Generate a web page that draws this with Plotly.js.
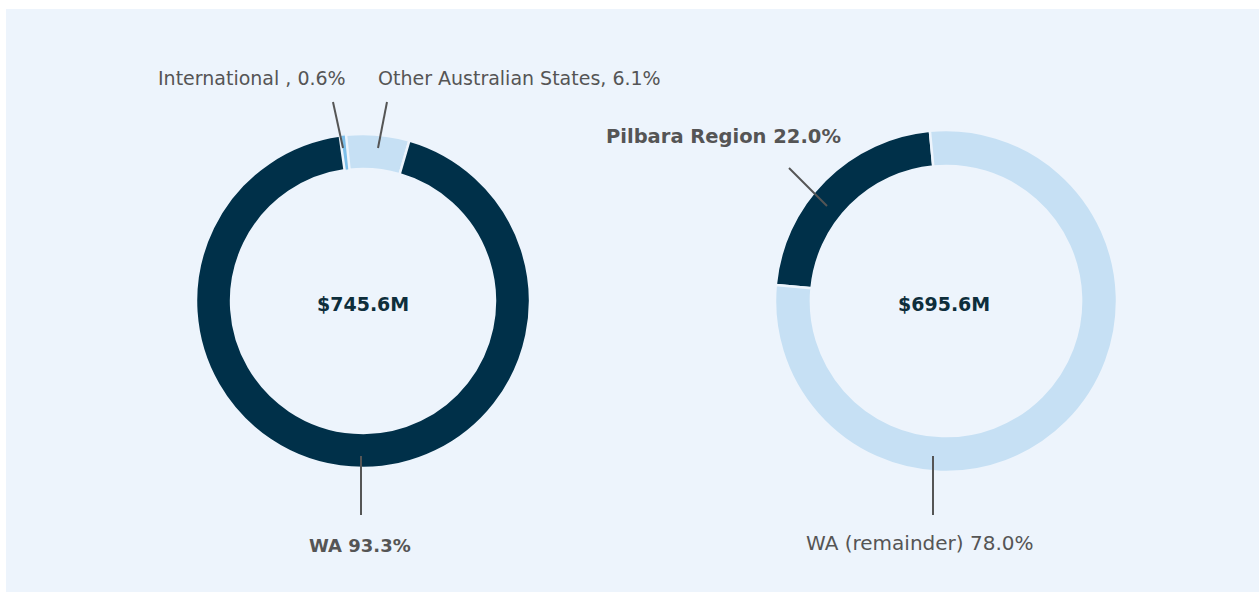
<!DOCTYPE html>
<html>
<head>
<meta charset="utf-8">
<script src="https://cdn.plot.ly/plotly-3.0.1.min.js"></script>
<style>html,body{margin:0;padding:0;background:#fff;}#chart{width:1259px;height:592px;}</style>
</head>
<body>
<div id="chart"></div>
<script>
// ---- Data ----
const originLabels = ['International', 'Other Australian States', 'WA'];
const originValues = [0.6, 6.1, 93.3];
const originTexts = ['International , 0.6%', 'Other Australian States, 6.1%', 'WA 93.3%'];
const originTotal = '$745.6M';

const regionLabels = ['Pilbara Region', 'WA (remainder)'];
const regionValues = [22.0, 78.0];
const regionTexts = ['Pilbara Region 22.0%', 'WA (remainder) 78.0%'];
const regionTotal = '$695.6M';

// ---- Styles ----
const W = 1259, H = 592;
const panelColor = '#EDF4FC';
const dark = '#003049';
const light = '#C6E0F4';
const mid = '#7DBFEA';
const textGrey = '#555555';
const centerColor = '#0E2E3B';
const fontFam = '"DejaVu Sans", "Open Sans", sans-serif';

const fx = px => px / W;
const fy = py => 1 - py / H;

function domainFor(cx, cy, r) {
  return { x: [fx(cx - r), fx(cx + r)], y: [fy(cy + r), fy(cy - r)] };
}

const leftC = { x: 363, y: 301, r: 167 };
const rightC = { x: 946, y: 301, r: 171 };

const traces = [
  {
    type: 'pie', labels: originLabels, values: originValues,
    hole: 0.79, sort: false, direction: 'clockwise', rotation: -8,
    marker: { colors: [mid, light, dark], line: { color: panelColor, width: [1, 2.5, 2.5] } },
    textinfo: 'none', hoverinfo: 'label+percent', showlegend: false,
    domain: domainFor(leftC.x, leftC.y, leftC.r)
  },
  {
    type: 'pie', labels: regionLabels, values: regionValues,
    hole: 0.79, sort: false, direction: 'clockwise',
    rotation: -45 - regionValues[0] * 3.6 / 2,
    marker: { colors: [dark, light], line: { color: panelColor, width: 2.5 } },
    textinfo: 'none', hoverinfo: 'label+percent', showlegend: false,
    domain: domainFor(rightC.x, rightC.y, rightC.r)
  }
];

const lineStyle = { color: '#555555', width: 2 };
function seg(x0, y0, x1, y1) {
  return { type: 'line', xref: 'paper', yref: 'paper', x0: fx(x0), y0: fy(y0), x1: fx(x1), y1: fy(y1), line: lineStyle, layer: 'above' };
}

const shapes = [
  { type: 'rect', xref: 'paper', yref: 'paper', x0: fx(6), x1: 1, y0: 0, y1: fy(9), fillcolor: panelColor, line: { width: 0 }, layer: 'below' },
  seg(333, 102, 343, 148),
  seg(387, 102, 378, 148),
  seg(361, 456, 361, 515),
  seg(789, 168, 827, 206),
  seg(933, 456, 933, 515)
];

function ann(text, px, py, xanchor, bold, size, color) {
  return {
    text: text, xref: 'paper', yref: 'paper', x: fx(px), y: fy(py),
    xanchor: xanchor, yanchor: 'middle', showarrow: false,
    font: { family: fontFam, size: size || 19, color: color || textGrey, weight: bold ? 700 : 400 }
  };
}

const annotations = [
  ann(originTexts[0], 348, 78, 'right', false, 19),
  ann(originTexts[1], 376, 78, 'left', false, 19),
  ann(originTexts[2], 360, 545, 'center', true, 18),
  ann(regionTexts[0], 604, 136, 'left', true, 19.5),
  ann(regionTexts[1], 920, 543, 'center', false, 20),
  ann(originTotal, leftC.x, 304, 'center', true, 19, centerColor),
  ann(regionTotal, rightC.x - 2, 304, 'center', true, 19, centerColor)
];

const layout = {
  width: W, height: H,
  margin: { l: 0, r: 0, t: 0, b: 0 },
  paper_bgcolor: '#ffffff',
  plot_bgcolor: 'rgba(0,0,0,0)',
  shapes: shapes,
  annotations: annotations,
  showlegend: false
};

Plotly.newPlot('chart', traces, layout, { displayModeBar: false, staticPlot: true });
</script>
</body>
</html>
